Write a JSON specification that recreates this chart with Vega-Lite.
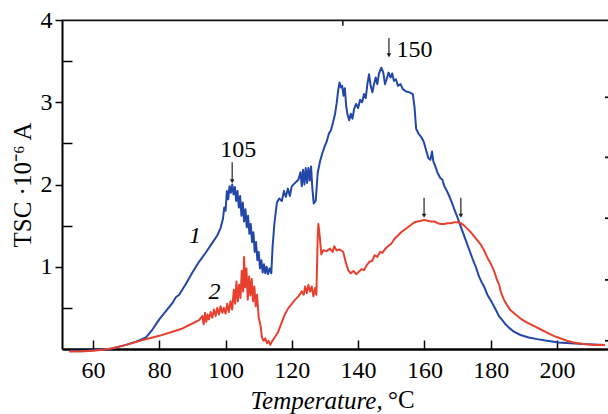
{
  "$schema": "https://vega.github.io/schema/vega-lite/v6.json",
  "width": 546,
  "height": 329,
  "autosize": "none",
  "padding": {"left": 62, "top": 20, "right": 0, "bottom": 65},
  "config": {
    "view": {"stroke": null},
    "font": "Liberation Serif",
    "axis": {
      "grid": false,
      "domainColor": "black",
      "tickColor": "black",
      "labelColor": "black",
      "titleColor": "black",
      "labelFont": "Liberation Serif",
      "titleFont": "Liberation Serif",
      "labelFontSize": 24,
      "titleFontSize": 25,
      "titleFontWeight": "normal"
    }
  },
  "datasets": {
    "curves": [
      {"s":"1","T":53,"v":-0.02},{"s":"1","T":58,"v":-0.02},{"s":"1","T":62,"v":-0.01},{"s":"1","T":65,"v":0.0},
      {"s":"1","T":67,"v":0.02},{"s":"1","T":70,"v":0.05},{"s":"1","T":73,"v":0.09},{"s":"1","T":76,"v":0.14},
      {"s":"1","T":78,"v":0.24},{"s":"1","T":80,"v":0.36},{"s":"1","T":82,"v":0.46},{"s":"1","T":84,"v":0.56},
      {"s":"1","T":85,"v":0.63},{"s":"1","T":86,"v":0.66},{"s":"1","T":88,"v":0.79},{"s":"1","T":90,"v":0.93},
      {"s":"1","T":92,"v":1.06},{"s":"1","T":94,"v":1.17},{"s":"1","T":96,"v":1.29},{"s":"1","T":97.5,"v":1.38},
      {"s":"1","T":98.5,"v":1.47},{"s":"1","T":99.2,"v":1.58},{"s":"1","T":99.6,"v":1.72},{"s":"1","T":100.0,"v":1.68},
      {"s":"1","T":100.4,"v":1.92},{"s":"1","T":100.8,"v":1.82},{"s":"1","T":101.2,"v":1.98},{"s":"1","T":101.6,"v":1.9},
      {"s":"1","T":102.0,"v":2.0},{"s":"1","T":102.4,"v":1.88},{"s":"1","T":102.8,"v":1.97},{"s":"1","T":103.2,"v":1.8},
      {"s":"1","T":103.6,"v":1.92},{"s":"1","T":104.0,"v":1.72},{"s":"1","T":104.4,"v":1.86},{"s":"1","T":104.8,"v":1.62},
      {"s":"1","T":105.2,"v":1.78},{"s":"1","T":105.6,"v":1.55},{"s":"1","T":106.0,"v":1.7},{"s":"1","T":106.4,"v":1.48},
      {"s":"1","T":106.8,"v":1.62},{"s":"1","T":107.2,"v":1.4},{"s":"1","T":107.6,"v":1.52},{"s":"1","T":108.0,"v":1.3},
      {"s":"1","T":108.4,"v":1.42},{"s":"1","T":108.8,"v":1.18},{"s":"1","T":109.2,"v":1.3},{"s":"1","T":109.6,"v":1.08},
      {"s":"1","T":110.0,"v":1.18},{"s":"1","T":110.4,"v":0.98},{"s":"1","T":110.8,"v":1.08},{"s":"1","T":111.2,"v":0.93},
      {"s":"1","T":111.6,"v":1.03},{"s":"1","T":112.0,"v":0.92},{"s":"1","T":112.4,"v":1.0},{"s":"1","T":112.8,"v":0.91},
      {"s":"1","T":113.3,"v":0.98},{"s":"1","T":113.8,"v":0.92},{"s":"1","T":114.2,"v":1.25},{"s":"1","T":114.8,"v":1.55},
      {"s":"1","T":115.5,"v":1.78},{"s":"1","T":116.2,"v":1.83},{"s":"1","T":117.0,"v":1.8},{"s":"1","T":117.6,"v":1.92},
      {"s":"1","T":118.2,"v":1.85},{"s":"1","T":118.8,"v":1.95},{"s":"1","T":119.4,"v":1.86},{"s":"1","T":120.0,"v":1.98},
      {"s":"1","T":121,"v":2.02},{"s":"1","T":122,"v":2.06},{"s":"1","T":122.6,"v":2.15},{"s":"1","T":123.0,"v":1.98},
      {"s":"1","T":123.4,"v":2.18},{"s":"1","T":123.8,"v":2.0},{"s":"1","T":124.2,"v":2.2},{"s":"1","T":124.6,"v":2.02},
      {"s":"1","T":125.0,"v":2.2},{"s":"1","T":125.4,"v":2.05},{"s":"1","T":125.8,"v":2.22},{"s":"1","T":126.2,"v":1.95},
      {"s":"1","T":126.6,"v":1.77},{"s":"1","T":127.2,"v":1.8},{"s":"1","T":127.8,"v":2.14},{"s":"1","T":128.5,"v":2.28},
      {"s":"1","T":129.2,"v":2.38},{"s":"1","T":129.8,"v":2.45},{"s":"1","T":130.5,"v":2.52},{"s":"1","T":131.2,"v":2.62},
      {"s":"1","T":131.8,"v":2.66},{"s":"1","T":132.4,"v":2.75},{"s":"1","T":133.0,"v":2.85},{"s":"1","T":133.5,"v":2.98},
      {"s":"1","T":134.0,"v":3.15},{"s":"1","T":134.4,"v":3.24},{"s":"1","T":134.8,"v":3.18},{"s":"1","T":135.2,"v":3.2},
      {"s":"1","T":135.6,"v":3.08},{"s":"1","T":136.0,"v":3.17},{"s":"1","T":136.4,"v":2.95},{"s":"1","T":136.8,"v":2.85},
      {"s":"1","T":137.3,"v":2.78},{"s":"1","T":137.8,"v":2.86},{"s":"1","T":138.3,"v":2.8},{"s":"1","T":138.8,"v":2.92},
      {"s":"1","T":139.4,"v":2.98},{"s":"1","T":140.0,"v":2.93},{"s":"1","T":140.6,"v":3.03},{"s":"1","T":141.2,"v":3.0},
      {"s":"1","T":141.8,"v":3.1},{"s":"1","T":142.3,"v":3.05},{"s":"1","T":142.8,"v":3.22},{"s":"1","T":143.3,"v":3.34},
      {"s":"1","T":143.8,"v":3.2},{"s":"1","T":144.3,"v":3.12},{"s":"1","T":144.8,"v":3.22},{"s":"1","T":145.3,"v":3.3},
      {"s":"1","T":145.8,"v":3.22},{"s":"1","T":146.3,"v":3.35},{"s":"1","T":147.0,"v":3.42},{"s":"1","T":147.6,"v":3.36},
      {"s":"1","T":148.1,"v":3.22},{"s":"1","T":148.6,"v":3.28},{"s":"1","T":149.2,"v":3.36},{"s":"1","T":149.8,"v":3.3},
      {"s":"1","T":150.3,"v":3.35},{"s":"1","T":150.8,"v":3.26},{"s":"1","T":151.4,"v":3.28},{"s":"1","T":152.0,"v":3.2},
      {"s":"1","T":152.8,"v":3.22},{"s":"1","T":153.5,"v":3.16},{"s":"1","T":154.5,"v":3.13},{"s":"1","T":155.5,"v":3.12},
      {"s":"1","T":156.5,"v":3.1},{"s":"1","T":157.0,"v":2.95},{"s":"1","T":157.5,"v":2.68},{"s":"1","T":158.2,"v":2.62},
      {"s":"1","T":159.0,"v":2.58},{"s":"1","T":159.8,"v":2.52},{"s":"1","T":160.5,"v":2.42},{"s":"1","T":161.2,"v":2.32},
      {"s":"1","T":161.8,"v":2.3},{"s":"1","T":162.3,"v":2.4},{"s":"1","T":162.7,"v":2.28},{"s":"1","T":163.3,"v":2.22},
      {"s":"1","T":164.0,"v":2.14},{"s":"1","T":164.8,"v":2.08},{"s":"1","T":165.4,"v":2.06},{"s":"1","T":166.0,"v":1.98},
      {"s":"1","T":166.8,"v":1.92},{"s":"1","T":167.5,"v":1.86},{"s":"1","T":168.3,"v":1.78},{"s":"1","T":169.0,"v":1.7},
      {"s":"1","T":169.8,"v":1.62},{"s":"1","T":170.6,"v":1.53},{"s":"1","T":171.5,"v":1.43},{"s":"1","T":172.5,"v":1.32},
      {"s":"1","T":173.5,"v":1.21},{"s":"1","T":174.5,"v":1.1},{"s":"1","T":175.5,"v":1.0},{"s":"1","T":176.5,"v":0.88},
      {"s":"1","T":177.3,"v":0.81},{"s":"1","T":178.0,"v":0.76},{"s":"1","T":179.0,"v":0.66},{"s":"1","T":180.3,"v":0.57},
      {"s":"1","T":181.5,"v":0.48},{"s":"1","T":182.5,"v":0.4},{"s":"1","T":183.5,"v":0.35},{"s":"1","T":184.5,"v":0.3},
      {"s":"1","T":185.5,"v":0.26},{"s":"1","T":187,"v":0.21},{"s":"1","T":189,"v":0.17},{"s":"1","T":191.5,"v":0.14},
      {"s":"1","T":194,"v":0.12},{"s":"1","T":197,"v":0.1},{"s":"1","T":200.5,"v":0.08},{"s":"1","T":204,"v":0.07},
      {"s":"1","T":208,"v":0.06},{"s":"1","T":214.5,"v":0.05},

      {"s":"2","T":52.8,"v":-0.03},{"s":"2","T":56,"v":-0.03},{"s":"2","T":60,"v":-0.02},{"s":"2","T":63,"v":-0.01},
      {"s":"2","T":66,"v":0.01},{"s":"2","T":70,"v":0.05},{"s":"2","T":75,"v":0.11},{"s":"2","T":80,"v":0.16},
      {"s":"2","T":84,"v":0.21},{"s":"2","T":87,"v":0.25},{"s":"2","T":90,"v":0.31},{"s":"2","T":92,"v":0.35},
      {"s":"2","T":93.0,"v":0.4},{"s":"2","T":93.4,"v":0.3},{"s":"2","T":93.8,"v":0.44},{"s":"2","T":94.2,"v":0.33},
      {"s":"2","T":94.6,"v":0.42},{"s":"2","T":95.0,"v":0.36},{"s":"2","T":95.5,"v":0.45},{"s":"2","T":96.0,"v":0.38},
      {"s":"2","T":96.5,"v":0.48},{"s":"2","T":97.0,"v":0.4},{"s":"2","T":97.5,"v":0.5},{"s":"2","T":98.0,"v":0.42},
      {"s":"2","T":98.5,"v":0.52},{"s":"2","T":99.0,"v":0.44},{"s":"2","T":99.5,"v":0.5},{"s":"2","T":100.0,"v":0.43},
      {"s":"2","T":100.5,"v":0.55},{"s":"2","T":101.0,"v":0.45},{"s":"2","T":101.5,"v":0.58},{"s":"2","T":102.0,"v":0.48},
      {"s":"2","T":102.5,"v":0.72},{"s":"2","T":102.9,"v":0.55},{"s":"2","T":103.3,"v":0.82},{"s":"2","T":103.7,"v":0.58},
      {"s":"2","T":104.1,"v":0.78},{"s":"2","T":104.5,"v":0.62},{"s":"2","T":104.9,"v":0.95},{"s":"2","T":105.3,"v":0.7},
      {"s":"2","T":105.6,"v":1.12},{"s":"2","T":105.9,"v":0.75},{"s":"2","T":106.3,"v":0.98},{"s":"2","T":106.7,"v":0.6},
      {"s":"2","T":107.1,"v":0.88},{"s":"2","T":107.5,"v":0.65},{"s":"2","T":107.9,"v":0.85},{"s":"2","T":108.3,"v":0.58},
      {"s":"2","T":108.7,"v":0.76},{"s":"2","T":109.1,"v":0.52},{"s":"2","T":109.5,"v":0.66},{"s":"2","T":110.0,"v":0.38},
      {"s":"2","T":110.5,"v":0.3},{"s":"2","T":111.0,"v":0.14},{"s":"2","T":111.5,"v":0.1},{"s":"2","T":112.0,"v":0.13},
      {"s":"2","T":112.5,"v":0.07},{"s":"2","T":113.0,"v":0.1},{"s":"2","T":113.5,"v":0.05},{"s":"2","T":114.0,"v":0.09},
      {"s":"2","T":114.8,"v":0.14},{"s":"2","T":115.8,"v":0.2},{"s":"2","T":117.0,"v":0.33},{"s":"2","T":118.0,"v":0.43},
      {"s":"2","T":119.0,"v":0.5},{"s":"2","T":120.0,"v":0.55},{"s":"2","T":121.0,"v":0.6},{"s":"2","T":122.0,"v":0.64},
      {"s":"2","T":123.0,"v":0.7},{"s":"2","T":123.6,"v":0.66},{"s":"2","T":124.0,"v":0.76},{"s":"2","T":124.5,"v":0.68},
      {"s":"2","T":125.0,"v":0.78},{"s":"2","T":125.5,"v":0.7},{"s":"2","T":126.0,"v":0.76},{"s":"2","T":126.5,"v":0.64},
      {"s":"2","T":127.0,"v":0.74},{"s":"2","T":127.4,"v":0.66},{"s":"2","T":127.8,"v":1.35},{"s":"2","T":128.0,"v":1.52},
      {"s":"2","T":128.4,"v":1.38},{"s":"2","T":128.9,"v":1.15},{"s":"2","T":129.5,"v":1.2},{"s":"2","T":130.5,"v":1.19},
      {"s":"2","T":131.5,"v":1.22},{"s":"2","T":132.3,"v":1.18},{"s":"2","T":132.8,"v":1.25},{"s":"2","T":133.5,"v":1.2},
      {"s":"2","T":134.5,"v":1.21},{"s":"2","T":135.5,"v":1.18},{"s":"2","T":136.3,"v":1.05},{"s":"2","T":137.0,"v":0.96},
      {"s":"2","T":137.8,"v":0.92},{"s":"2","T":138.6,"v":0.95},{"s":"2","T":139.4,"v":0.91},{"s":"2","T":140.2,"v":0.94},
      {"s":"2","T":141.0,"v":0.97},{"s":"2","T":141.8,"v":0.96},{"s":"2","T":142.6,"v":1.02},{"s":"2","T":143.4,"v":1.06},
      {"s":"2","T":144.2,"v":1.07},{"s":"2","T":145.0,"v":1.14},{"s":"2","T":145.8,"v":1.12},{"s":"2","T":146.6,"v":1.18},
      {"s":"2","T":147.4,"v":1.17},{"s":"2","T":148.2,"v":1.22},{"s":"2","T":149.0,"v":1.25},{"s":"2","T":150.0,"v":1.28},
      {"s":"2","T":151.0,"v":1.34},{"s":"2","T":152.0,"v":1.38},{"s":"2","T":153.0,"v":1.42},{"s":"2","T":154.0,"v":1.45},
      {"s":"2","T":155.0,"v":1.48},{"s":"2","T":156.0,"v":1.51},{"s":"2","T":157.0,"v":1.54},{"s":"2","T":158.0,"v":1.55},
      {"s":"2","T":159.0,"v":1.56},{"s":"2","T":160.0,"v":1.57},{"s":"2","T":161.0,"v":1.56},{"s":"2","T":162.0,"v":1.55},
      {"s":"2","T":163.0,"v":1.55},{"s":"2","T":164.0,"v":1.53},{"s":"2","T":165.0,"v":1.52},{"s":"2","T":166.0,"v":1.52},
      {"s":"2","T":167.0,"v":1.53},{"s":"2","T":168.0,"v":1.53},{"s":"2","T":169.0,"v":1.54},{"s":"2","T":170.0,"v":1.54},
      {"s":"2","T":171.0,"v":1.53},{"s":"2","T":172.0,"v":1.5},{"s":"2","T":173.0,"v":1.46},{"s":"2","T":174.0,"v":1.42},
      {"s":"2","T":175.0,"v":1.37},{"s":"2","T":176.0,"v":1.32},{"s":"2","T":177.0,"v":1.27},{"s":"2","T":178.0,"v":1.2},
      {"s":"2","T":179.0,"v":1.11},{"s":"2","T":180.0,"v":1.04},{"s":"2","T":181.0,"v":0.95},{"s":"2","T":182.0,"v":0.83},
      {"s":"2","T":182.6,"v":0.78},{"s":"2","T":183.0,"v":0.7},{"s":"2","T":184.0,"v":0.6},{"s":"2","T":185.0,"v":0.53},
      {"s":"2","T":186.0,"v":0.47},{"s":"2","T":187.5,"v":0.42},{"s":"2","T":189,"v":0.37},{"s":"2","T":191,"v":0.32},
      {"s":"2","T":193,"v":0.28},{"s":"2","T":195,"v":0.24},{"s":"2","T":197,"v":0.2},{"s":"2","T":199,"v":0.16},
      {"s":"2","T":201,"v":0.13},{"s":"2","T":203,"v":0.1},{"s":"2","T":205,"v":0.08},{"s":"2","T":208,"v":0.06},
      {"s":"2","T":211,"v":0.05},{"s":"2","T":214.5,"v":0.05}
    ],
    "arrows": [
      {"T": 102.0, "v": 2.27, "v2": 2.04},
      {"T": 149.3, "v": 3.78, "v2": 3.57},
      {"T": 159.9, "v": 1.84, "v2": 1.62},
      {"T": 171.0, "v": 1.84, "v2": 1.62}
    ],
    "numbers": [
      {"T": 103.8, "v": 2.42, "text": "105"},
      {"T": 157.0, "v": 3.64, "text": "150"}
    ],
    "curveLabels": [
      {"T": 90.8, "v": 1.37, "text": "1"},
      {"T": 96.7, "v": 0.69, "text": "2"}
    ],
    "unit": [
      {"T": 149.0, "v": -0.717, "text": "°C"}
    ],
    "hticks": [
      {"T": 50.65, "T2": 215.4, "v": 3.995},
      {"T": 214.5, "T2": 215.4, "v": 3.06},
      {"T": 214.5, "T2": 215.4, "v": 2.33},
      {"T": 214.5, "T2": 215.4, "v": 1.59},
      {"T": 214.5, "T2": 215.4, "v": 0.84},
      {"T": 214.5, "T2": 215.4, "v": 0.1}
    ],
    "vticks": [
      {"T": 135.4, "v": 3.99, "v2": 3.93}
    ]
  },
  "layer": [
    {
      "data": {"name": "curves"},
      "mark": {"type": "line", "strokeWidth": 2, "strokeJoin": "round"},
      "encoding": {
        "x": {
          "field": "T", "type": "quantitative",
          "scale": {"domain": [50.65, 215.4], "nice": false, "zero": false},
          "axis": {
            "orient": "bottom",
            "values": [60, 80, 100, 120, 140, 160, 180, 200],
            "tickSize": -9,
            "tickWidth": 1.5,
            "domainWidth": 2.5,
            "labelPadding": 18,
            "labelFlush": false,
            "title": "Temperature,",
            "titleFontStyle": "italic",
            "titleAlign": "left",
            "titleAnchor": "start",
            "titleX": 188,
            "titleY": 59,
            "titleBaseline": "alphabetic"
          }
        },
        "y": {
          "field": "v", "type": "quantitative",
          "scale": {"domain": [0, 4], "nice": false},
          "axis": {
            "orient": "left",
            "values": [0.5, 1, 1.5, 2, 2.5, 3, 3.5, 4],
            "tickSize": {"condition": {"test": "datum.value % 1 !== 0", "value": -10}, "value": 7},
            "tickWidth": 1.5,
            "domainWidth": 2,
            "labelPadding": 3,
            "labelExpr": "datum.value % 1 === 0 ? format(datum.value, 'd') : ''",
            "labelBaseline": "middle",
            "title": "TSC ·10⁻⁶ A",
            "titlePadding": 5
          }
        },
        "color": {
          "field": "s", "type": "nominal",
          "scale": {"domain": ["1", "2"], "range": ["#2347a8", "#e8402f"]},
          "legend": null
        }
      }
    },
    {
      "data": {"name": "hticks"},
      "mark": {"type": "rule", "strokeWidth": 1.8, "color": "#111111"},
      "encoding": {
        "x": {"field": "T", "type": "quantitative"},
        "x2": {"field": "T2"},
        "y": {"field": "v", "type": "quantitative"}
      }
    },
    {
      "data": {"name": "vticks"},
      "mark": {"type": "rule", "strokeWidth": 1.5, "color": "#111111"},
      "encoding": {
        "x": {"field": "T", "type": "quantitative"},
        "y": {"field": "v", "type": "quantitative"},
        "y2": {"field": "v2"}
      }
    },
    {
      "data": {"name": "arrows"},
      "mark": {"type": "rule", "strokeWidth": 1.2, "color": "#222"},
      "encoding": {
        "x": {"field": "T", "type": "quantitative"},
        "y": {"field": "v", "type": "quantitative"},
        "y2": {"field": "v2"}
      }
    },
    {
      "data": {"name": "arrows"},
      "mark": {"type": "point", "shape": "triangle-down", "filled": true, "size": 22, "color": "#222", "opacity": 1},
      "encoding": {
        "x": {"field": "T", "type": "quantitative"},
        "y": {"field": "v2", "type": "quantitative"}
      }
    },
    {
      "data": {"name": "numbers"},
      "mark": {"type": "text", "fontSize": 24, "font": "Liberation Serif", "color": "black", "baseline": "middle", "align": "center"},
      "encoding": {
        "x": {"field": "T", "type": "quantitative"},
        "y": {"field": "v", "type": "quantitative"},
        "text": {"field": "text"}
      }
    },
    {
      "data": {"name": "curveLabels"},
      "mark": {"type": "text", "fontSize": 24, "font": "Liberation Serif", "fontStyle": "italic", "color": "black", "baseline": "middle", "align": "center"},
      "encoding": {
        "x": {"field": "T", "type": "quantitative"},
        "y": {"field": "v", "type": "quantitative"},
        "text": {"field": "text"}
      }
    },
    {
      "data": {"name": "unit"},
      "mark": {"type": "text", "fontSize": 25, "font": "Liberation Serif", "color": "black", "baseline": "alphabetic", "align": "left"},
      "encoding": {
        "x": {"field": "T", "type": "quantitative"},
        "y": {"field": "v", "type": "quantitative"},
        "text": {"field": "text"}
      }
    }
  ]
}
